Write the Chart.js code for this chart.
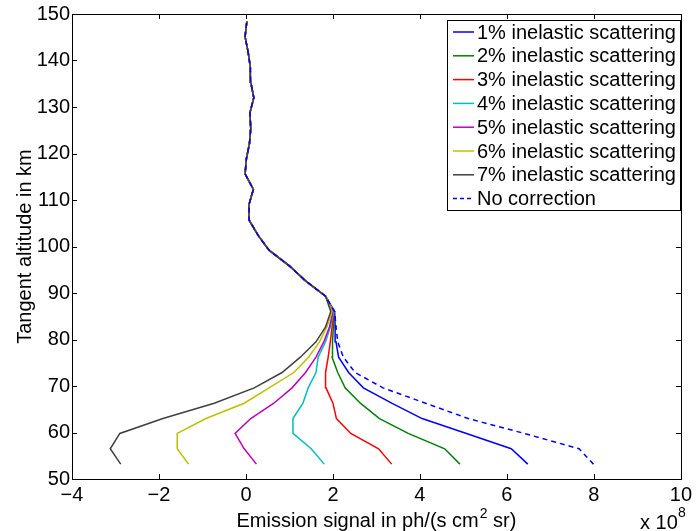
<!DOCTYPE html>
<html>
<head>
<meta charset="utf-8">
<script src="https://cdn.jsdelivr.net/npm/chart.js@4/dist/chart.umd.min.js"></script>
<style>
  body { margin: 0; background: #fff; }
  #wrap { width: 696px; height: 531px; }
</style>
</head>
<body>
<div id="wrap"><canvas id="chart" width="696" height="531"></canvas></div>
<script>
// Tangent altitudes (km), bottom to top
const altitudes = [53.2, 56.5, 59.8, 63.0, 66.3, 69.6, 72.9, 76.2, 79.5, 82.7,
                   86.0, 89.3, 92.6, 95.9, 99.2, 102.4, 105.7, 109.0, 112.3, 115.6,
                   118.9, 122.1, 125.4, 128.7, 132.0, 135.3, 138.6, 141.8, 145.1, 148.4];

// Emission signal (x 10^8 ph/(s cm^2 sr)) for each correction
const inelastic1 = [6.48, 6.10, 5.07, 4.05, 3.35, 2.70, 2.36, 2.13, 2.07, 2.05,
                    2.04, 1.83, 1.37, 0.99, 0.53, 0.28, 0.07, 0.07, 0.17, -0.02,
                    0.01, 0.08, 0.11, 0.09, 0.18, 0.11, 0.10, 0.05, -0.02, 0.02];
const inelastic2 = [4.92, 4.57, 3.73, 3.07, 2.63, 2.28, 2.11, 1.98, 1.99, 2.01,
                    2.02, 1.83, 1.37, 0.99, 0.53, 0.28, 0.07, 0.07, 0.17, -0.02,
                    0.01, 0.08, 0.11, 0.09, 0.18, 0.11, 0.10, 0.05, -0.02, 0.02];
const inelastic3 = [3.35, 3.05, 2.41, 2.08, 2.00, 1.84, 1.83, 1.89, 1.94, 1.98,
                    2.02, 1.83, 1.37, 0.99, 0.53, 0.28, 0.07, 0.07, 0.17, -0.02,
                    0.01, 0.08, 0.11, 0.09, 0.18, 0.11, 0.10, 0.05, -0.02, 0.02];
const inelastic4 = [1.80, 1.50, 1.08, 1.08, 1.31, 1.43, 1.61, 1.66, 1.83, 1.94,
                    2.02, 1.83, 1.37, 0.99, 0.53, 0.28, 0.07, 0.07, 0.17, -0.02,
                    0.01, 0.08, 0.11, 0.09, 0.18, 0.11, 0.10, 0.05, -0.02, 0.02];
const inelastic5 = [0.24, -0.04, -0.25, 0.11, 0.64, 1.06, 1.37, 1.61, 1.79, 1.92,
                    2.00, 1.83, 1.37, 0.99, 0.53, 0.28, 0.07, 0.07, 0.17, -0.02,
                    0.01, 0.08, 0.11, 0.09, 0.18, 0.11, 0.10, 0.05, -0.02, 0.02];
const inelastic6 = [-1.32, -1.58, -1.58, -0.92, -0.04, 0.53, 1.10, 1.44, 1.69, 1.86,
                    1.98, 1.83, 1.37, 0.99, 0.53, 0.28, 0.07, 0.07, 0.17, -0.02,
                    0.01, 0.08, 0.11, 0.09, 0.18, 0.11, 0.10, 0.05, -0.02, 0.02];
const inelastic7 = [-2.88, -3.12, -2.90, -1.91, -0.73, 0.19, 0.83, 1.25, 1.61, 1.83,
                    1.95, 1.83, 1.37, 0.99, 0.53, 0.28, 0.07, 0.07, 0.17, -0.02,
                    0.01, 0.08, 0.11, 0.09, 0.18, 0.11, 0.10, 0.05, -0.02, 0.02];
const noCorrection = [7.99, 7.66, 6.40, 5.11, 4.13, 3.15, 2.51, 2.24, 2.11, 2.07,
                      2.04, 1.83, 1.37, 0.99, 0.53, 0.28, 0.07, 0.07, 0.17, -0.02,
                      0.01, 0.08, 0.11, 0.09, 0.18, 0.11, 0.10, 0.05, -0.02, 0.02];

const seriesLabels = ['1% inelastic scattering', '2% inelastic scattering', '3% inelastic scattering',
                      '4% inelastic scattering', '5% inelastic scattering', '6% inelastic scattering',
                      '7% inelastic scattering', 'No correction'];
const seriesValues = [inelastic1, inelastic2, inelastic3, inelastic4, inelastic5, inelastic6, inelastic7, noCorrection];
const seriesColors = ['#0000ff', '#008000', '#ff0000', '#00bfbf', '#bf00bf', '#bfbf00', '#404040', '#0000ff'];

const FONT = '"Liberation Sans", Arial, Helvetica, sans-serif';

const datasets = seriesValues.map((vals, i) => ({
    label: seriesLabels[i],
    data: vals.map((v, k) => ({ x: v, y: altitudes[k] })),
    borderColor: seriesColors[i],
    borderWidth: 1.5,
    borderDash: i === 7 ? [5, 4] : [],
    showLine: true,
    pointRadius: 0,
    fill: false,
    tension: 0,
    // dashed on top, then 7% ... 1%
    order: i === 7 ? 0 : 8 - i
}));

// Box, inward ticks, axis titles and legend drawn like MATLAB
const matlabDecor = {
    id: 'matlabDecor',
    afterDraw(chart) {
        const ctx = chart.ctx;
        const a = chart.chartArea;
        const xs = chart.scales.x, ys = chart.scales.y;
        ctx.save();
        ctx.strokeStyle = '#000';
        ctx.lineWidth = 1;
        ctx.setLineDash([]);
        ctx.strokeRect(Math.round(a.left) + 0.5, Math.round(a.top) + 0.5,
                       Math.round(a.right - a.left), Math.round(a.bottom - a.top));
        const tl = 5;
        ctx.beginPath();
        xs.ticks.forEach(t => {
            const px = Math.round(xs.getPixelForValue(t.value)) + 0.5;
            ctx.moveTo(px, a.bottom); ctx.lineTo(px, a.bottom - tl);
            ctx.moveTo(px, a.top); ctx.lineTo(px, a.top + tl);
        });
        ys.ticks.forEach(t => {
            const py = Math.round(ys.getPixelForValue(t.value)) + 0.5;
            ctx.moveTo(a.left, py); ctx.lineTo(a.left + tl, py);
            ctx.moveTo(a.right, py); ctx.lineTo(a.right - tl, py);
        });
        ctx.stroke();

        // axis titles
        ctx.fillStyle = '#000';
        ctx.textBaseline = 'alphabetic';
        const cx = (a.left + a.right) / 2;
        const part1 = 'Emission signal in ph/(s cm';
        const sup = '2';
        const part2 = ' sr)';
        ctx.font = '20px ' + FONT;
        const w1 = ctx.measureText(part1).width;
        const w3 = ctx.measureText(part2).width;
        ctx.font = '14px ' + FONT;
        const w2 = ctx.measureText(sup).width;
        const total = w1 + w2 + w3 + 1;
        const x0 = cx - total / 2;
        const base = 527;
        ctx.textAlign = 'left';
        ctx.font = '20px ' + FONT;
        ctx.fillText(part1, x0, base);
        ctx.font = '14px ' + FONT;
        ctx.fillText(sup, x0 + w1 + 1, base - 9);
        ctx.font = '20px ' + FONT;
        ctx.fillText(part2, x0 + w1 + w2 + 1, base);

        // exponent label
        ctx.fillText('x 10', 640, 529);
        ctx.font = '14px ' + FONT;
        ctx.fillText('8', 678, 517);

        // y title
        ctx.save();
        ctx.translate(31, (a.top + a.bottom) / 2);
        ctx.rotate(-Math.PI / 2);
        ctx.font = '20px ' + FONT;
        ctx.textAlign = 'center';
        ctx.fillText('Tangent altitude in km', 0, 0);
        ctx.restore();

        // legend
        const lx = 447.5, ly = 20.5, lw = 233, lh = 190;
        ctx.fillStyle = '#fff';
        ctx.fillRect(lx, ly, lw, lh);
        ctx.strokeStyle = '#000';
        ctx.lineWidth = 1;
        ctx.strokeRect(lx, ly, lw, lh);
        ctx.font = '20px ' + FONT;
        ctx.textBaseline = 'middle';
        ctx.textAlign = 'left';
        seriesLabels.forEach((lab, i) => {
            const yy = 32 + i * 23.8;
            ctx.strokeStyle = seriesColors[i];
            ctx.lineWidth = 1.5;
            ctx.setLineDash(i === 7 ? [4, 3] : []);
            ctx.beginPath();
            ctx.moveTo(453, yy);
            ctx.lineTo(474, yy);
            ctx.stroke();
            ctx.fillStyle = '#000';
            ctx.fillText(lab, 477, yy + 1);
        });
        ctx.restore();
    }
};

new Chart(document.getElementById('chart').getContext('2d'), {
    type: 'scatter',
    data: { datasets: datasets },
    options: {
        responsive: false,
        animation: false,
        layout: { padding: { top: 14, right: 12, left: 0, bottom: 0 } },
        plugins: {
            legend: { display: false },
            tooltip: { enabled: false }
        },
        scales: {
            x: {
                type: 'linear',
                min: -4,
                max: 10,
                grid: { display: false, drawTicks: false },
                border: { display: false },
                ticks: {
                    stepSize: 2,
                    padding: 4,
                    color: '#000',
                    font: { family: FONT, size: 20 },
                    maxRotation: 0,
                    autoSkip: false,
                    callback: v => String(v).replace('-', '\u2212')
                },
                afterFit: scale => { scale.height = 52; }
            },
            y: {
                type: 'linear',
                min: 50,
                max: 150,
                grid: { display: false, drawTicks: false },
                border: { display: false },
                ticks: {
                    stepSize: 10,
                    padding: 2,
                    color: '#000',
                    font: { family: FONT, size: 20 }
                },
                afterFit: scale => { scale.width = 72; }
            }
        }
    },
    plugins: [matlabDecor]
});
</script>
</body>
</html>
